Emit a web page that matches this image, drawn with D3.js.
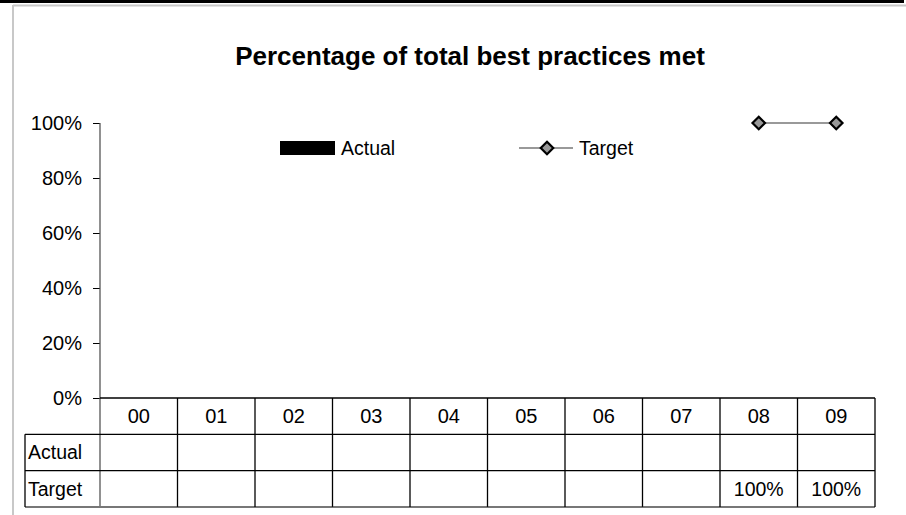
<!DOCTYPE html>
<html><head><meta charset="utf-8">
<script src="https://cdn.jsdelivr.net/npm/d3@7"></script>
<style>body{margin:0;background:#fff}svg{display:block}text{font-family:"Liberation Sans",Arial,sans-serif}</style>
</head><body><svg id="c" width="906" height="515"></svg>
<script>
const categories = ["00","01","02","03","04","05","06","07","08","09"];
const actualValues = [null,null,null,null,null,null,null,null,null,null];
const targetValues = [null,null,null,null,null,null,null,null,1.0,1.0];
const yTicks = [0,0.2,0.4,0.6,0.8,1.0];
const seriesNames = ["Actual","Target"];
const title = "Percentage of total best practices met";

const svg = d3.select("#c");
const pLeft = 100, pRight = 875, pTop = 123, pBottom = 398;
const rowH = 36.3;
const fs = 19.5;

// frame
svg.append("rect").attr("x",0).attr("y",0).attr("width",904).attr("height",3).attr("fill","#000");
svg.append("line").attr("x1",13).attr("x2",906).attr("y1",5.5).attr("y2",5.5).attr("stroke","#c8c8c8").attr("stroke-width",2);
svg.append("line").attr("x1",13).attr("x2",13).attr("y1",5).attr("y2",515).attr("stroke","#c8c8c8").attr("stroke-width",2);

const x = d3.scaleBand().domain(categories).range([pLeft,pRight]);
const y = d3.scaleLinear().domain([0,1]).range([pBottom,pTop]);

svg.append("text").attr("x",470).attr("y",65).attr("text-anchor","middle")
  .attr("font-size",26).attr("font-weight","bold").text(title);

// y axis
const yAxis = d3.axisLeft(y).tickValues(yTicks).tickFormat(d3.format(".0%")).tickSize(7).tickPadding(11);
const ga = svg.append("g").attr("transform",`translate(${pLeft},0)`).call(yAxis);
ga.select(".domain").remove();
ga.selectAll(".tick line").attr("stroke","#000");
ga.selectAll(".tick text").attr("font-size",20).attr("fill","#000").attr("font-family","Liberation Sans, Arial, sans-serif");
svg.append("line").attr("x1",pLeft).attr("x2",pLeft).attr("y1",pTop).attr("y2",pBottom+3*rowH).attr("stroke","#555").attr("stroke-width",1.3);

// actual bars (none present)
svg.append("g").selectAll("rect").data(categories.map((c,i)=>({c,v:actualValues[i]})).filter(d=>d.v!=null))
  .join("rect").attr("x",d=>x(d.c)+x.bandwidth()*0.25).attr("width",x.bandwidth()*0.5)
  .attr("y",d=>y(d.v)).attr("height",d=>pBottom-y(d.v)).attr("fill","#000");

// table
const tbl = svg.append("g");
const tableLeft = 25;
[pBottom, pBottom+rowH, pBottom+2*rowH].forEach((yy,i)=>{
  tbl.append("line").attr("x1", i===0?pLeft:tableLeft).attr("x2",pRight).attr("y1",yy).attr("y2",yy).attr("stroke","#000").attr("stroke-width",1.3);
});
tbl.append("line").attr("x1",tableLeft).attr("x2",pRight).attr("y1",pBottom+3*rowH).attr("y2",pBottom+3*rowH).attr("stroke","#777").attr("stroke-width",2);
tbl.append("line").attr("x1",tableLeft).attr("x2",tableLeft).attr("y1",pBottom+rowH).attr("y2",pBottom+3*rowH).attr("stroke","#000").attr("stroke-width",1.3);
categories.forEach(c=>{
  tbl.append("line").attr("x1",x(c)+x.bandwidth()).attr("x2",x(c)+x.bandwidth()).attr("y1",pBottom).attr("y2",pBottom+3*rowH).attr("stroke","#000").attr("stroke-width",1.3);
});
tbl.selectAll("text.cat").data(categories).join("text").attr("class","cat")
  .attr("x",d=>x(d)+x.bandwidth()/2).attr("y",pBottom+rowH/2+7).attr("text-anchor","middle").attr("font-size",20).text(d=>d);
tbl.append("text").attr("x",tableLeft+3).attr("y",pBottom+rowH*1.5+7).attr("font-size",fs).text(seriesNames[0]);
tbl.append("text").attr("x",tableLeft+3).attr("y",pBottom+rowH*2.5+7).attr("font-size",fs).text(seriesNames[1]);
const fmt = d3.format(".0%");
tbl.selectAll("text.av").data(categories.map((c,i)=>({c,v:actualValues[i]})).filter(d=>d.v!=null)).join("text").attr("class","av")
  .attr("x",d=>x(d.c)+x.bandwidth()/2).attr("y",pBottom+rowH*1.5+7).attr("text-anchor","middle").attr("font-size",fs).text(d=>fmt(d.v));
tbl.selectAll("text.tv").data(categories.map((c,i)=>({c,v:targetValues[i]})).filter(d=>d.v!=null)).join("text").attr("class","tv")
  .attr("x",d=>x(d.c)+x.bandwidth()/2).attr("y",pBottom+rowH*2.5+7).attr("text-anchor","middle").attr("font-size",fs).text(d=>fmt(d.v));

// target line
const tdata = categories.map((c,i)=>({c,v:targetValues[i]})).filter(d=>d.v!=null);
const line = d3.line().x(d=>x(d.c)+x.bandwidth()/2).y(d=>y(d.v));
svg.append("path").datum(tdata).attr("d",line).attr("fill","none").attr("stroke","#999").attr("stroke-width",2.2);
const diamond = d3.symbol().type(d3.symbolDiamond2).size(100);
svg.selectAll("path.pt").data(tdata).join("path").attr("class","pt")
  .attr("transform",d=>`translate(${x(d.c)+x.bandwidth()/2},${y(d.v)})`)
  .attr("d",diamond()).attr("fill","#999").attr("stroke","#000").attr("stroke-width",2.2);

// legend
const ly = 148;
svg.append("rect").attr("x",280).attr("y",ly-7).attr("width",55).attr("height",14).attr("fill","#000");
svg.append("text").attr("x",341).attr("y",ly+7).attr("font-size",fs).text(seriesNames[0]);
svg.append("line").attr("x1",519).attr("x2",573).attr("y1",ly).attr("y2",ly).attr("stroke","#999").attr("stroke-width",2.2);
svg.append("path").attr("transform",`translate(547,${ly})`).attr("d",diamond()).attr("fill","#999").attr("stroke","#000").attr("stroke-width",2.2);
svg.append("text").attr("x",579).attr("y",ly+7).attr("font-size",fs).text(seriesNames[1]);
</script></body></html>
